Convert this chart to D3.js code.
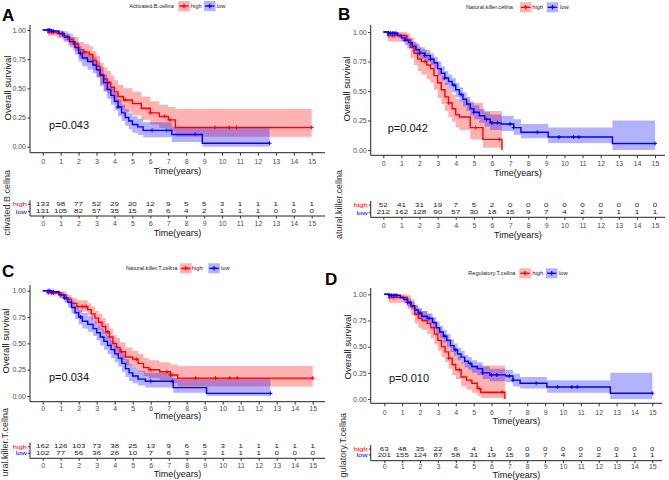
<!DOCTYPE html>
<html><head><meta charset="utf-8">
<script src="https://cdn.jsdelivr.net/npm/d3@7/dist/d3.min.js"></script>
<style>
body{margin:0;background:#fff}
svg{display:block}
text{font-family:"Liberation Sans",Arial,sans-serif}
</style>
</head><body>
<svg id="c" width="669" height="480"></svg>
<script>
// ---------- shared ticks ----------
const timeTicks = [0,1,2,3,4,5,6,7,8,9,10,11,12,13,14,15];
const survTicks = [0,0.25,0.5,0.75,1];
const groupNames = ["high","low"];

// ---------- Panel A : Activated.B.cellna ----------
const aHighTime  = [0,0.3,0.8,1.1,1.4,1.7,2.0,2.3,2.6,2.8,3.0,3.2,3.4,3.6,3.8,4.0,4.2,4.5,5.0,5.5,6.0,6.5,7.0,7.4,15];
const aHighSurv  = [1,0.98,0.97,0.95,0.92,0.88,0.83,0.81,0.79,0.74,0.69,0.62,0.58,0.55,0.51,0.47,0.43,0.40,0.37,0.33,0.29,0.26,0.23,0.165,0.165];
const aHighUpper = [1,1,1,0.99,0.97,0.94,0.90,0.88,0.86,0.82,0.78,0.72,0.68,0.65,0.61,0.57,0.53,0.50,0.47,0.43,0.39,0.36,0.34,0.325,0.325];
const aHighLower = [1,0.95,0.93,0.91,0.87,0.82,0.76,0.74,0.72,0.66,0.60,0.52,0.48,0.45,0.41,0.37,0.33,0.30,0.27,0.23,0.19,0.16,0.13,0.085,0.085];
const aHighCens  = [0.35,0.5,0.6,2.3,3.7,4.6,6.0,6.8,7.1,9.6,10.4,10.8,15];
const aLowTime   = [0,0.5,0.9,1.2,1.5,1.8,2.0,2.2,2.5,2.8,3.0,3.2,3.4,3.6,3.8,4.0,4.2,4.4,4.6,4.8,5.0,5.3,5.6,7.2,8.9,12.65];
const aLowSurv   = [1,0.99,0.97,0.94,0.90,0.85,0.80,0.76,0.73,0.70,0.66,0.61,0.55,0.49,0.44,0.39,0.34,0.29,0.25,0.22,0.19,0.17,0.14,0.105,0.03,0.03];
const aLowUpper  = [1,1,0.99,0.97,0.94,0.90,0.86,0.82,0.79,0.77,0.73,0.68,0.62,0.56,0.51,0.46,0.41,0.36,0.32,0.29,0.26,0.24,0.21,0.17,0.17,0.17];
const aLowLower  = [1,0.97,0.94,0.90,0.85,0.79,0.73,0.69,0.66,0.63,0.59,0.53,0.47,0.41,0.36,0.31,0.26,0.22,0.18,0.15,0.12,0.10,0.08,0.04,0,0];
const aLowCens   = [0.3,0.4,0.5,0.6,1.1,2.1,4.2,6.1,6.9,8.5,12.65];
const aRiskHigh  = [133,98,77,52,29,20,12,9,5,5,3,1,1,1,1,1];
const aRiskLow   = [131,105,82,57,35,15,8,6,4,2,1,1,1,0,0,0];

// ---------- Panel B : Natural.killer.cellna ----------
const bHighTime  = [0,0.25,1.3,1.5,1.7,1.9,2.1,2.4,2.6,2.8,3.0,3.2,3.4,3.6,3.8,4.0,4.2,4.8,5.5,6.55];
const bHighSurv  = [1,0.97,0.93,0.87,0.82,0.77,0.75,0.72,0.69,0.63,0.57,0.51,0.45,0.40,0.35,0.30,0.28,0.19,0.09,0];
const bHighUpper = [1,1,0.99,0.95,0.91,0.87,0.85,0.82,0.79,0.74,0.69,0.63,0.57,0.52,0.47,0.43,0.42,0.40,0.33,0.33];
const bHighLower = [1,0.92,0.86,0.78,0.72,0.67,0.64,0.60,0.57,0.51,0.44,0.39,0.33,0.28,0.24,0.19,0.17,0.09,0.02,0.02];
const bHighCens  = [0.3,0.5,0.6,2.3,3.6,5.1,6.4];
const bLowTime   = [0,0.3,0.8,1.0,1.2,1.4,1.6,1.8,2.0,2.3,2.6,2.8,3.0,3.2,3.4,3.6,3.8,4.0,4.2,4.4,4.6,4.8,5.0,5.3,5.6,5.9,6.5,7.2,7.6,9.1,12.65,15];
const bLowSurv   = [1,0.99,0.97,0.95,0.93,0.91,0.88,0.85,0.82,0.80,0.77,0.74,0.69,0.65,0.61,0.58,0.55,0.51,0.47,0.43,0.39,0.35,0.32,0.29,0.26,0.23,0.22,0.19,0.15,0.11,0.055,0.055];
const bLowUpper  = [1,1,0.99,0.98,0.97,0.95,0.92,0.90,0.87,0.85,0.82,0.79,0.75,0.71,0.67,0.64,0.61,0.57,0.53,0.49,0.45,0.41,0.38,0.35,0.32,0.30,0.29,0.26,0.22,0.19,0.25,0.25];
const bLowLower  = [1,0.97,0.95,0.92,0.89,0.86,0.83,0.80,0.77,0.75,0.72,0.69,0.63,0.59,0.55,0.52,0.49,0.45,0.41,0.37,0.33,0.29,0.26,0.23,0.20,0.17,0.16,0.13,0.10,0.06,0,0];
const bLowCens   = [0.3,0.4,0.5,0.6,0.7,1.2,2.0,2.3,2.6,3.4,3.9,4.3,5.0,5.7,6.0,6.3,7.0,7.2,8.5,9.7,10.5,10.8,15];
const bRiskHigh  = [52,41,31,19,7,5,2,0,0,0,0,0,0,0,0,0];
const bRiskLow   = [212,162,128,90,57,30,18,15,9,7,4,2,2,1,1,1];

// ---------- Panel C : Natural.killer.T.cellna ----------
const cHighTime  = [0,0.3,1.0,1.3,1.6,1.9,2.5,2.7,2.9,3.1,3.3,3.5,3.7,3.9,4.1,4.3,4.6,5.0,5.3,5.6,5.9,6.5,7.1,7.5,15];
const cHighSurv  = [1,0.98,0.96,0.92,0.88,0.85,0.82,0.78,0.74,0.70,0.66,0.61,0.56,0.50,0.46,0.42,0.37,0.35,0.31,0.27,0.25,0.23,0.20,0.17,0.17];
const cHighUpper = [1,1,0.99,0.96,0.93,0.91,0.88,0.85,0.81,0.78,0.74,0.69,0.64,0.58,0.55,0.51,0.46,0.43,0.40,0.36,0.34,0.32,0.30,0.285,0.285];
const cHighLower = [1,0.96,0.93,0.88,0.83,0.80,0.77,0.72,0.68,0.63,0.59,0.54,0.48,0.42,0.38,0.34,0.29,0.27,0.23,0.19,0.17,0.15,0.12,0.09,0.09];
const cHighCens  = [0.3,0.5,0.6,1.0,2.2,2.4,3.6,4.4,5.2,6.0,6.9,7.1,8.5,9.6,10.4,10.8,15];
const cLowTime   = [0,0.5,0.9,1.2,1.4,1.6,1.8,2.0,2.2,2.5,2.8,3.0,3.2,3.4,3.6,3.8,4.0,4.2,4.4,4.6,4.8,5.0,5.3,5.7,7.25,9.1,12.65];
const cLowSurv   = [1,0.99,0.96,0.93,0.89,0.84,0.79,0.75,0.71,0.68,0.64,0.60,0.56,0.52,0.48,0.44,0.40,0.36,0.31,0.26,0.22,0.19,0.16,0.14,0.08,0.025,0.025];
const cLowUpper  = [1,1,0.99,0.97,0.94,0.90,0.86,0.82,0.79,0.76,0.72,0.68,0.64,0.61,0.57,0.53,0.49,0.45,0.40,0.35,0.30,0.27,0.24,0.22,0.17,0.17,0.17];
const cLowLower  = [1,0.97,0.93,0.89,0.84,0.78,0.73,0.68,0.64,0.61,0.57,0.53,0.48,0.44,0.40,0.36,0.32,0.28,0.23,0.18,0.14,0.12,0.10,0.08,0.03,0,0];
const cLowCens   = [0.3,0.4,0.5,0.6,1.2,2.1,6.0,7.2,12.65];
const cRiskHigh  = [162,126,103,73,38,25,13,9,6,5,3,1,1,1,1,1];
const cRiskLow   = [102,77,56,36,26,10,7,6,3,2,1,1,1,0,0,0];

// ---------- Panel D : Regulatory.T.cellna ----------
const dHighTime  = [0,0.25,1.3,1.5,1.7,1.9,2.1,2.4,2.6,2.8,3.0,3.2,3.4,3.6,3.8,4.0,4.3,4.6,4.9,5.2,5.4,6.75];
const dHighSurv  = [1,0.97,0.93,0.88,0.81,0.77,0.75,0.72,0.68,0.62,0.56,0.50,0.45,0.39,0.33,0.28,0.21,0.18,0.15,0.10,0.065,0];
const dHighUpper = [1,1,0.99,0.95,0.89,0.86,0.84,0.81,0.78,0.73,0.67,0.62,0.57,0.51,0.46,0.41,0.35,0.33,0.32,0.32,0.32,0.32];
const dHighLower = [1,0.92,0.86,0.80,0.72,0.68,0.66,0.62,0.58,0.52,0.46,0.40,0.35,0.29,0.23,0.19,0.12,0.09,0.06,0.03,0.01,0.01];
const dHighCens  = [0.3,0.5,3.6,4.2,5.3,6.6];
const dLowTime   = [0,0.3,0.9,1.1,1.3,1.5,1.7,1.9,2.1,2.4,2.7,2.9,3.1,3.3,3.5,3.7,3.9,4.1,4.3,4.5,4.7,4.9,5.2,5.5,5.9,6.8,7.2,7.6,9.1,12.65,15];
const dLowSurv   = [1,0.99,0.97,0.95,0.92,0.89,0.85,0.82,0.79,0.77,0.73,0.68,0.64,0.60,0.56,0.51,0.47,0.43,0.40,0.36,0.34,0.31,0.29,0.25,0.23,0.22,0.18,0.15,0.115,0.055,0.055];
const dLowUpper  = [1,1,0.99,0.98,0.96,0.93,0.90,0.87,0.84,0.82,0.78,0.74,0.70,0.66,0.62,0.57,0.53,0.49,0.46,0.42,0.40,0.37,0.35,0.31,0.29,0.28,0.24,0.21,0.18,0.25,0.25];
const dLowLower  = [1,0.97,0.95,0.92,0.88,0.85,0.80,0.77,0.74,0.72,0.68,0.62,0.58,0.54,0.50,0.45,0.41,0.37,0.34,0.30,0.28,0.25,0.23,0.19,0.17,0.16,0.12,0.10,0.06,0,0];
const dLowCens   = [0.3,0.4,0.5,0.6,0.7,1.3,2.0,2.5,3.4,4.0,4.8,5.5,6.0,6.3,7.0,7.2,8.5,9.7,10.5,10.8,15];
const dRiskHigh  = [63,48,35,22,6,4,1,0,0,0,0,0,0,0,0,0];
const dRiskLow   = [201,155,124,87,58,31,19,15,9,7,4,2,2,1,1,1];

const pValues = ["p=0.043","p=0.042","p=0.034","p=0.010"];
const legendTitles = ["Activated.B.cellna","Natural.killer.cellna","Natural.killer.T.cellna","Regulatory.T.cellna"];
const riskLabels = ["ctivated.B.cellna","atural.killer.cellna","ural.killer.T.cellna","gulatory.T.cellna"];
const panelLetters = ["A","B","C","D"];

const RED = "#FF0000", BLUE = "#0000FF";
const FONT = '"Liberation Sans",Arial,sans-serif';

function mk(time,surv,upper,lower,cens,color){return {time,surv,upper,lower,cens,color};}

const panels = [
 {i:0, series:[mk(aHighTime,aHighSurv,aHighUpper,aHighLower,aHighCens,RED), mk(aLowTime,aLowSurv,aLowUpper,aLowLower,aLowCens,BLUE)],
  risk:[aRiskHigh,aRiskLow],
  x0:42.7,x15:311.7,ys0:146.7,ys1:30,axL:30,axT:25,axB:152.7,axR:325,tickLabY:162,titleY:171,
  pX:49,pY:125,ylabX:10.5,ylabY:88,letX:2,letY:21,
  lg:{y:6,tx:129.3,b1:178.3,hi:190.7,b2:204,lo:216.7},
  rk:{rows:[204.3,211.7],ax:216,tickLabY:224,titleY:233,labX:9.5,labTop:170}},
 {i:1, series:[mk(bHighTime,bHighSurv,bHighUpper,bHighLower,bHighCens,RED), mk(bLowTime,bLowSurv,bLowUpper,bLowLower,bLowCens,BLUE)],
  risk:[bRiskHigh,bRiskLow],
  x0:383.3,x15:655,ys0:150,ys1:32,axL:370.7,axT:25,axB:155.3,axR:665,tickLabY:164,titleY:173,
  pX:387.7,pY:127.7,ylabX:349.5,ylabY:89,letX:338,letY:20,
  lg:{y:7.3,tx:466,b1:520,hi:532.3,b2:546.7,lo:560},
  rk:{rows:[205,212.7],ax:217.3,tickLabY:226,titleY:235,labX:342,labTop:170}},
 {i:2, series:[mk(cHighTime,cHighSurv,cHighUpper,cHighLower,cHighCens,RED), mk(cLowTime,cLowSurv,cLowUpper,cLowLower,cLowCens,BLUE)],
  risk:[cRiskHigh,cRiskLow],
  x0:42.7,x15:312.7,ys0:396,ys1:290.7,axL:30,axT:285,axB:401.7,axR:325,tickLabY:408.3,titleY:416,
  pX:49,pY:376.7,ylabX:9,ylabY:341,letX:2,letY:277,
  lg:{y:268.3,tx:126,b1:180,hi:191.7,b2:208.3,lo:221},
  rk:{rows:[446.7,453.3],ax:458.3,tickLabY:466,titleY:474,labX:7.5,labTop:408}},
 {i:3, series:[mk(dHighTime,dHighSurv,dHighUpper,dHighLower,dHighCens,RED), mk(dLowTime,dLowSurv,dLowUpper,dLowLower,dLowCens,BLUE)],
  risk:[dRiskHigh,dRiskLow],
  x0:384.3,x15:652.3,ys0:399,ys1:294.3,axL:370.7,axT:288,axB:403.3,axR:662,tickLabY:412.5,titleY:421,
  pX:389,pY:378.3,ylabX:351,ylabY:347,letX:325,letY:285,
  lg:{y:273.3,tx:468.3,b1:519.3,hi:532.3,b2:546,lo:559},
  rk:{rows:[449,455],ax:460.7,tickLabY:467,titleY:475,labX:345.5,labTop:413}}
];

const svg = d3.select("#c");
svg.append("rect").attr("width",669).attr("height",480).attr("fill","#fff");

function drawPanel(P){
  const g = svg.append("g");
  const x = d3.scaleLinear().domain([0,15]).range([P.x0,P.x15]);
  const y = d3.scaleLinear().domain([0,1]).range([P.ys0,P.ys1]);

  // confidence bands
  P.series.forEach(s=>{
    const rows = s.time.map((t,k)=>({t,u:s.upper[k],l:s.lower[k]}));
    g.append("path").datum(rows)
      .attr("d", d3.area().curve(d3.curveStepAfter).x(d=>x(d.t)).y0(d=>y(d.l)).y1(d=>y(d.u)))
      .attr("fill", s.color).attr("fill-opacity", 0.3).attr("stroke","none");
  });
  // survival curves + censor marks
  P.series.forEach(s=>{
    const rows = s.time.map((t,k)=>({t,v:s.surv[k]}));
    g.append("path").datum(rows)
      .attr("d", d3.line().curve(d3.curveStepAfter).x(d=>x(d.t)).y(d=>y(d.v)))
      .attr("fill","none").attr("stroke", s.color).attr("stroke-width",1.4);
    s.cens.forEach(c=>{
      const k = Math.max(0, d3.bisectRight(s.time, c) - 1);
      const cx = x(c), cy = y(s.surv[k]);
      g.append("path").attr("d",`M${cx-2},${cy}H${cx+2}M${cx},${cy-2}V${cy+2}`)
        .attr("stroke", s.color).attr("stroke-width",1);
    });
  });

  // axes
  const gx = g.append("g").attr("transform",`translate(0,${P.axB})`)
    .call(d3.axisBottom(x).tickValues(timeTicks).tickSize(3).tickSizeOuter(0)
      .tickPadding(P.tickLabY - P.axB - 3 - 2.5));
  gx.select(".domain").remove();
  gx.attr("font-size",7).attr("font-family",FONT);
  gx.selectAll("text").attr("fill","#4d4d4d");
  gx.selectAll("line").attr("stroke","#333");

  const gy = g.append("g").attr("transform",`translate(${P.axL},0)`)
    .call(d3.axisLeft(y).tickValues(survTicks).tickFormat(d3.format(".2f")).tickSize(2.5).tickSizeOuter(0).tickPadding(1.5));
  gy.select(".domain").remove();
  gy.attr("font-size",7).attr("font-family",FONT);
  gy.selectAll("text").attr("fill","#4d4d4d");
  gy.selectAll("line").attr("stroke","#333");

  g.append("line").attr("x1",P.axL).attr("x2",P.axL).attr("y1",P.axT).attr("y2",P.axB).attr("stroke","#222").attr("stroke-width",1);
  g.append("line").attr("x1",P.axL).attr("x2",P.axR).attr("y1",P.axB).attr("y2",P.axB).attr("stroke","#222").attr("stroke-width",1);

  const mid = (P.axL + P.axR)/2;
  g.append("text").attr("x",mid).attr("y",P.titleY).attr("text-anchor","middle").attr("dominant-baseline","central")
    .attr("font-size",9).attr("fill","#111").text("Time(years)");
  g.append("text").attr("transform",`translate(${P.ylabX},${P.ylabY}) rotate(-90)`).attr("text-anchor","middle")
    .attr("font-size",9.5).attr("fill","#111").text("Overall survival");
  g.append("text").attr("x",P.pX).attr("y",P.pY).attr("dominant-baseline","central")
    .attr("font-size",11).attr("fill","#111").text(pValues[P.i]);
  g.append("text").attr("x",P.letX).attr("y",P.letY).attr("font-size",17).attr("font-weight","bold")
    .attr("fill","#000").text(panelLetters[P.i]);

  // legend
  const L = P.lg;
  g.append("text").attr("x",L.tx).attr("y",L.y).attr("dominant-baseline","central").attr("font-size",5.6).attr("fill","#222").text(legendTitles[P.i]);
  [[L.b1,L.hi,RED,groupNames[0]],[L.b2,L.lo,BLUE,groupNames[1]]].forEach(([bx,tx,col,name])=>{
    g.append("rect").attr("x",bx).attr("y",L.y-5).attr("width",11.5).attr("height",10).attr("fill",col).attr("fill-opacity",0.3);
    g.append("line").attr("x1",bx+1).attr("x2",bx+10.5).attr("y1",L.y).attr("y2",L.y).attr("stroke",col).attr("stroke-width",1.3);
    g.append("path").attr("d",`M${bx+3.5},${L.y}H${bx+8}M${bx+5.75},${L.y-2.3}V${L.y+2.3}`).attr("stroke",col).attr("stroke-width",1.2);
    g.append("text").attr("x",tx).attr("y",L.y).attr("dominant-baseline","central").attr("font-size",5.8).attr("fill","#222").text(name);
  });

  // risk table (text slightly compressed vertically, as in the reference)
  const R = P.rk;
  const SY = 0.78;
  P.risk.forEach((arr,r)=>{
    const col = r===0 ? RED : BLUE;
    g.append("text").attr("transform",`translate(${P.axL-3},${R.rows[r]}) scale(1,${SY})`)
      .attr("text-anchor","end").attr("dominant-baseline","central")
      .attr("font-size",7.5).attr("fill",col).text(groupNames[r]);
    g.append("line").attr("x1",P.axL-2).attr("x2",P.axL).attr("y1",R.rows[r]).attr("y2",R.rows[r]).attr("stroke","#333");
    g.selectAll(null).data(arr).enter().append("text")
      .attr("transform",(d,k)=>`translate(${x(timeTicks[k])},${R.rows[r]}) scale(1,${SY})`)
      .attr("text-anchor","middle").attr("dominant-baseline","central")
      .attr("font-size",8).attr("fill","#222").text(d=>d);
  });
  g.append("line").attr("x1",P.axL).attr("x2",P.axL).attr("y1",R.rows[0]-4).attr("y2",R.ax).attr("stroke","#222");
  g.append("line").attr("x1",P.axL).attr("x2",P.axR).attr("y1",R.ax).attr("y2",R.ax).attr("stroke","#222");
  const rx = g.append("g").attr("transform",`translate(0,${R.ax})`)
    .call(d3.axisBottom(x).tickValues(timeTicks).tickSize(2.5).tickSizeOuter(0).tickPadding(R.tickLabY - R.ax - 2.5 - 2.5));
  rx.select(".domain").remove();
  rx.attr("font-size",7).attr("font-family",FONT);
  rx.selectAll("text").attr("fill","#4d4d4d");
  rx.selectAll("line").attr("stroke","#333");
  g.append("text").attr("x",mid).attr("y",R.titleY).attr("text-anchor","middle").attr("dominant-baseline","central")
    .attr("font-size",9).attr("fill","#111").text("Time(years)");
  g.append("text").attr("transform",`translate(${R.labX},${R.labTop}) rotate(-90)`).attr("text-anchor","end")
    .attr("font-size",9).attr("fill","#333").text(riskLabels[P.i]);
}

panels.forEach(drawPanel);
</script>
</body></html>
